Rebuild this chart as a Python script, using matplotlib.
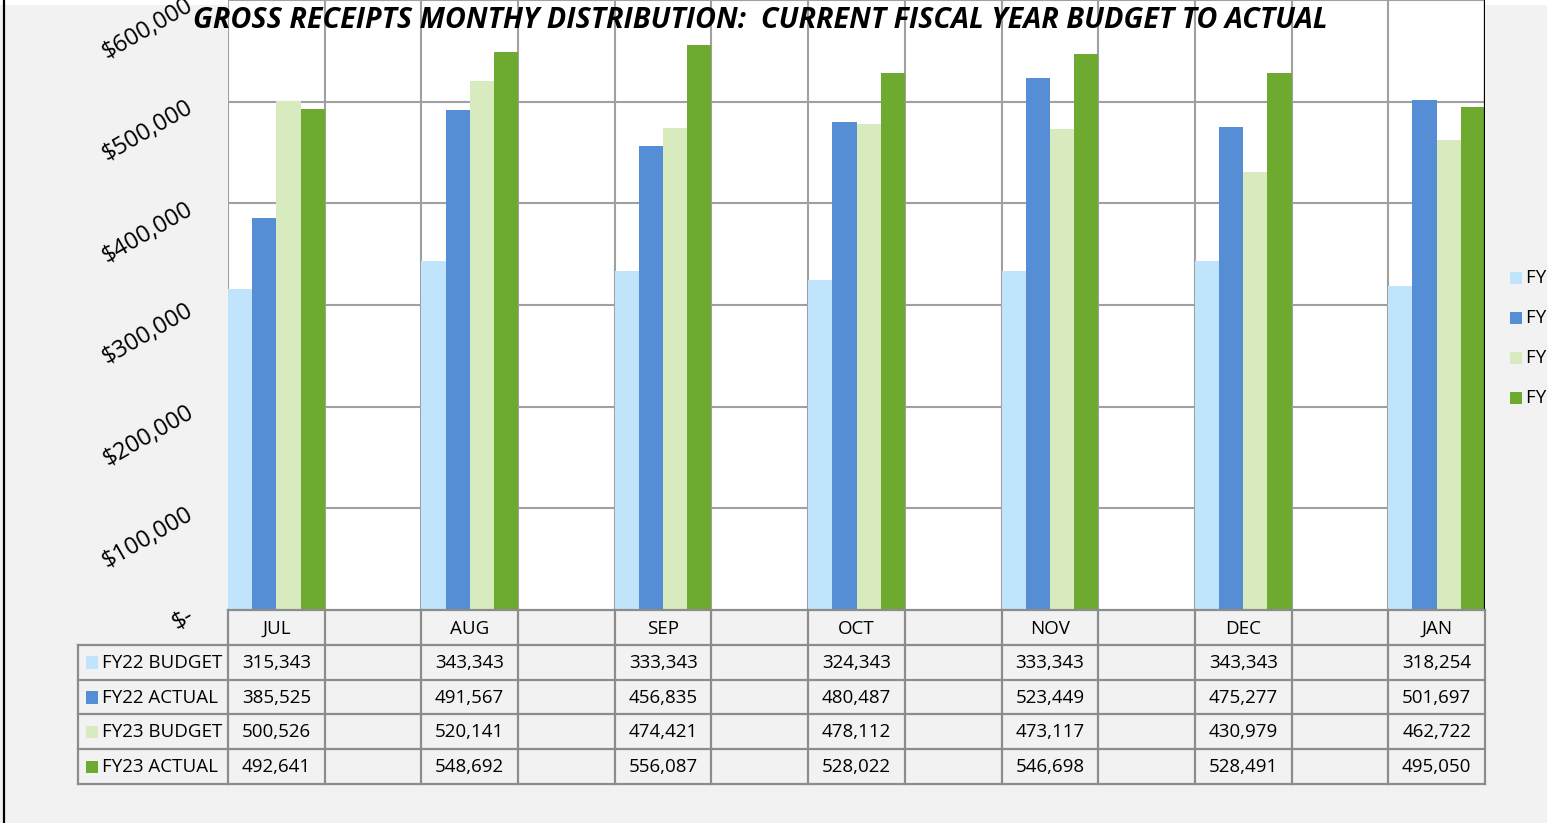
import matplotlib
matplotlib.use("Agg")
import matplotlib.pyplot as plt
from matplotlib.patches import Rectangle
from matplotlib.lines import Line2D

# data
months = ["JUL", "", "AUG", "", "SEP", "", "OCT", "", "NOV", "", "DEC", "", "JAN"]
series_names = ["FY22 BUDGET", "FY22 ACTUAL", "FY23 BUDGET", "FY23 ACTUAL"]
fy22_budget = [315343, None, 343343, None, 333343, None, 324343, None, 333343, None, 343343, None, 318254]
fy22_actual = [385525, None, 491567, None, 456835, None, 480487, None, 523449, None, 475277, None, 501697]
fy23_budget = [500526, None, 520141, None, 474421, None, 478112, None, 473117, None, 430979, None, 462722]
fy23_actual = [492641, None, 548692, None, 556087, None, 528022, None, 546698, None, 528491, None, 495050]
y_ticks = [0, 100000, 200000, 300000, 400000, 500000, 600000]
y_labels = ["$-", "$100,000", "$200,000", "$300,000", "$400,000", "$500,000", "$600,000"]

colors = ["#C0E4FC", "#558ED5", "#D7EBBE", "#6EAA30"]
series = [fy22_budget, fy22_actual, fy23_budget, fy23_actual]

W, H = 1547, 823
bg = "#F2F2F2"
grid_c = "#A0A0A0"
tbl_c = "#8C8C8C"
font = "Open Sans"
plt.rcParams["font.family"] = [font, "DejaVu Sans"]
fs = 13.5

fig = plt.figure(figsize=(W / 100, H / 100), dpi=100, facecolor=bg)


def fx(px):
    return px / W


def fy(py):
    return 1 - py / H


# main plot area
ax = fig.add_axes([fx(228), fy(610), fx(1485) - fx(228), fy(0) - fy(610)])
ax.set_facecolor("white")
n = len(months)
ax.set_xlim(-0.5, n - 0.5)
ax.set_ylim(0, 600000)
for s in ax.spines.values():
    s.set_visible(False)
ax.set_xticks([])
ax.set_yticks([])

for v in y_ticks[1:]:
    ax.axhline(v, color=grid_c, lw=1.5, zorder=1)
for k in range(n + 1):
    ax.axvline(k - 0.5, color=grid_c, lw=1.5, zorder=1)

bw = 0.25
for i, (vals, c) in enumerate(zip(series, colors)):
    xs = [j + (i - 1.5) * bw for j, v in enumerate(vals) if v is not None]
    ys = [v for v in vals if v is not None]
    ax.bar(xs, ys, width=bw, color=c, zorder=2, linewidth=0)

# rotated y labels
ytr = ax.get_yaxis_transform()
for v, lab in zip(y_ticks, y_labels):
    ax.text(-0.029, v - 4000, lab, transform=ytr, rotation=30, rotation_mode="anchor",
            ha="right", va="center", fontsize=17, color="black", clip_on=False)

# right black border of plot
ax.axvline(n - 0.5, color="black", lw=1.6, zorder=3)

# data table
tax = fig.add_axes([fx(228), fy(784), fx(1485) - fx(228), fy(610) - fy(784)])
tax.set_xlim(-0.5, n - 0.5)
tax.set_ylim(5, 0)
tax.axis("off")
lab_left = -0.5 - 150 / 96.7
row_y = [0, 1, 2, 3, 4, 5]
# horizontal lines
tax.add_line(Line2D([-0.5, n - 0.5], [0, 0], color=tbl_c, lw=1.6, clip_on=False))
for r in row_y[1:]:
    tax.add_line(Line2D([lab_left, n - 0.5], [r, r], color=tbl_c, lw=1.6, clip_on=False))
# vertical lines
tax.add_line(Line2D([lab_left, lab_left], [1, 5], color=tbl_c, lw=1.6, clip_on=False))
for k in range(n + 1):
    tax.add_line(Line2D([k - 0.5, k - 0.5], [0, 5], color=tbl_c, lw=1.6, clip_on=False))

for j, m in enumerate(months):
    tax.text(j, 0.55, m, ha="center", va="center", fontsize=fs)
for i, (name, vals, c) in enumerate(zip(series_names, series, colors)):
    r = i + 1
    tax.add_patch(Rectangle((lab_left + 8 / 96.7, r + 0.33), 12 / 96.7, 0.36,
                            color=c, clip_on=False, lw=0))
    tax.text(lab_left + 24 / 96.7, r + 0.52, name, ha="left", va="center", fontsize=fs)
    for j, v in enumerate(vals):
        if v is not None:
            tax.text(j, r + 0.52, f"{v:,}", ha="center", va="center", fontsize=fs)

# legend on the right (cut by the figure edge as in the source)
for i, (name, c) in enumerate(zip(series_names, colors)):
    yc = 278 + 40 * i
    fig.patches.append(Rectangle((fx(1510), fy(yc + 6)), fx(12), 12 / H, color=c,
                                 transform=fig.transFigure, lw=0))
    fig.text(fx(1526), fy(yc), name, ha="left", va="center", fontsize=fs)

# title
fig.text(fx(760), fy(20), "GROSS RECEIPTS MONTHY DISTRIBUTION:  CURRENT FISCAL YEAR BUDGET TO ACTUAL",
         ha="center", va="center", fontsize=20.7, fontweight="bold", fontstyle="italic")

# frame bits
fig.patches.append(Rectangle((0, fy(5)), 1, 5 / H, color="white", transform=fig.transFigure,
                             zorder=-1, lw=0))
fig.add_artist(Line2D([fx(3.5), fx(3.5)], [0, 1], color="black", lw=1.6))

fig.savefig("out.png", dpi=100, facecolor=bg)
